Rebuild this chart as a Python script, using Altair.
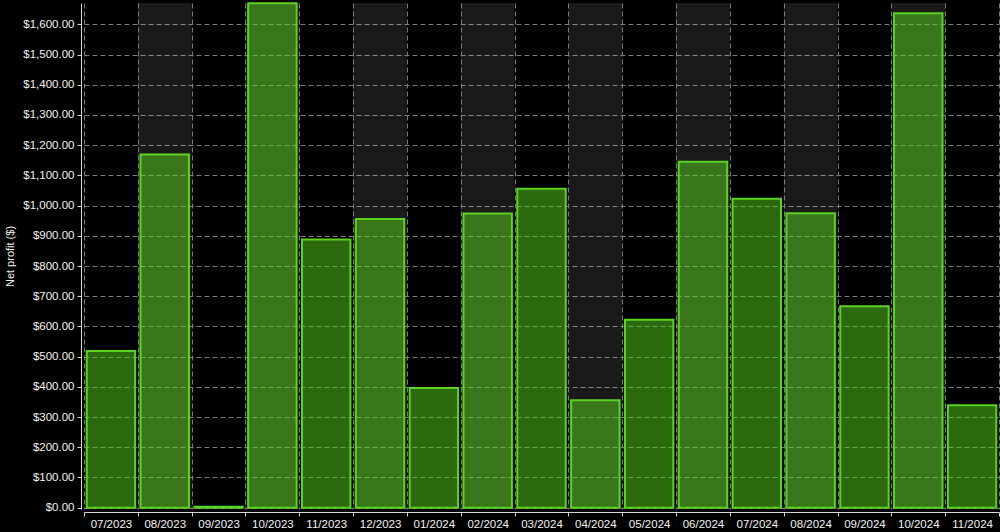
import altair as alt
import pandas as pd

months = ["07/2023", "08/2023", "09/2023", "10/2023", "11/2023", "12/2023",
          "01/2024", "02/2024", "03/2024", "04/2024", "05/2024", "06/2024",
          "07/2024", "08/2024", "09/2024", "10/2024", "11/2024"]
profits = [519, 1169, 3, 1670, 888, 956, 396, 974, 1056, 356, 622, 1145,
           1023, 975, 667, 1637, 339]
band_months = months[1::2]

df = pd.DataFrame({"month": months, "profit": profits})
bands = pd.DataFrame({"month": band_months})

W, H = 915, 506
FONT = "Liberation Sans"

x_axis = alt.Axis(
    title=None, labelAngle=0, tickBand="extent", grid=True,
    gridDash=[5, 3], gridColor="#7a7a7a", gridWidth=1,
    domainColor="#d8d8d8", tickColor="#d8d8d8", tickSize=4,
    labelColor="#f2f2f2", labelFontSize=11.5, labelFont=FONT,
    labelPadding=2, offset=3,
)
x_scale = alt.Scale(paddingInner=0, paddingOuter=0)

band_layer = alt.Chart(bands).mark_rect(fill="#ffffff", opacity=0.1).encode(
    x=alt.X("month:N", sort=months, scale=x_scale, axis=x_axis),
    y=alt.value(0),
    y2=alt.value(H),
)

bar_layer = alt.Chart(df).mark_bar(
    width=alt.RelativeBandSize(0.9),
    fill="#5ad41e", fillOpacity=0.5,
    stroke="#5ad41e", strokeWidth=2,
).encode(
    x=alt.X("month:N", sort=months, scale=x_scale, axis=x_axis),
    y=alt.Y(
        "profit:Q",
        scale=alt.Scale(domain=[-4.3, 1670.6], nice=False, zero=False),
        axis=alt.Axis(
            title="Net profit ($)", values=list(range(0, 1700, 100)),
            format="$,.2f", grid=True, gridDash=[5, 3], gridColor="#7a7a7a",
            gridWidth=1, domainColor="#d8d8d8", tickColor="#d8d8d8",
            tickSize=4, labelColor="#f2f2f2", labelFontSize=11.5,
            labelFont=FONT, labelPadding=3, offset=3,
            titleColor="#f2f2f2", titleFontSize=11, titleFont=FONT,
            titleFontWeight="normal", titlePadding=7.5,
        ),
    ),
)

chart = alt.layer(band_layer, bar_layer).properties(
    width=W, height=H,
    background="#000000",
    autosize=alt.AutoSizeParams(type="none"),
    padding={"left": 84, "top": 3, "right": 1, "bottom": 23},
).configure_view(stroke=None)

chart.save("out.html", embed_options={"renderer": "svg", "actions": False})
